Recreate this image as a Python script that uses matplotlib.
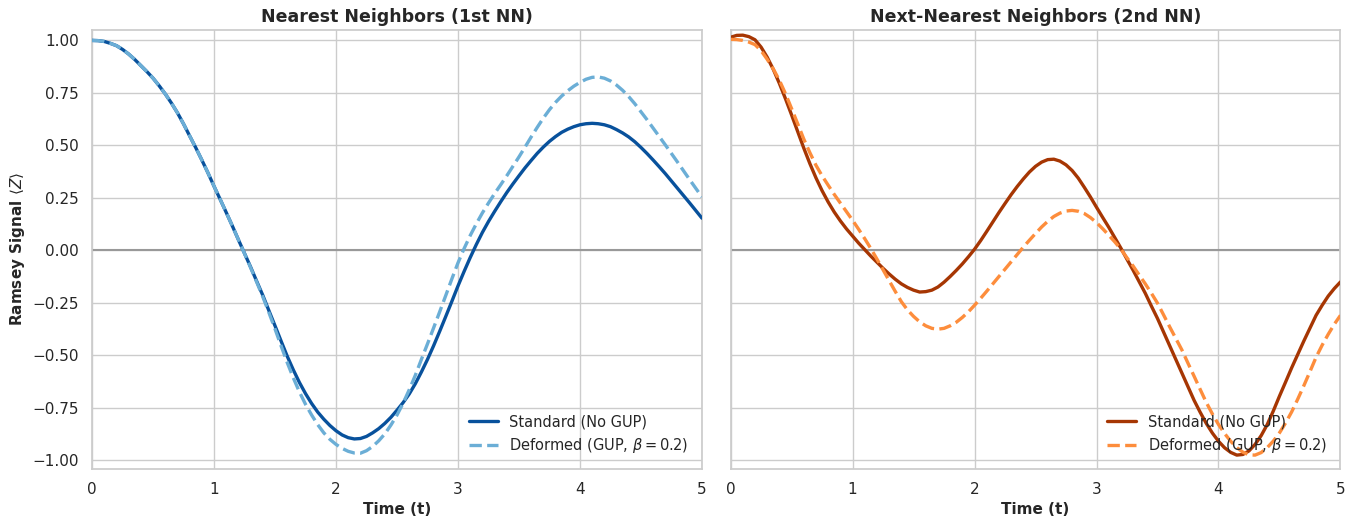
#!/usr/bin/env python3
# -*- coding: utf-8 -*-
"""
Ramsey signal <Z>(t) for 1st and 2nd nearest neighbours, standard vs GUP-deformed.
Values read off the reference figure, sampled every 0.05 in t.
"""

import numpy as np
import matplotlib
matplotlib.use("Agg")
import matplotlib.pyplot as plt
import seaborn as sns

t_vals = np.linspace(0.0, 5.0, 101)

nn1_standard = [
    1.000, 0.999, 0.995, 0.986, 0.975, 0.957, 0.935, 0.909, 0.880, 0.851,
    0.820, 0.784, 0.745, 0.702, 0.655, 0.602, 0.545, 0.489, 0.430, 0.369,
    0.305, 0.243, 0.180, 0.116, 0.050, -0.015, -0.080, -0.148, -0.215, -0.288,
    -0.360, -0.433, -0.505, -0.570, -0.630, -0.683, -0.730, -0.771, -0.805, -0.835,
    -0.860, -0.880, -0.893, -0.899, -0.897, -0.887, -0.870, -0.850, -0.825, -0.796,
    -0.762, -0.726, -0.685, -0.636, -0.580, -0.520, -0.455, -0.386, -0.315, -0.243,
    -0.170, -0.101, -0.035, 0.027, 0.085, 0.137, 0.185, 0.231, 0.275, 0.316,
    0.355, 0.393, 0.428, 0.462, 0.492, 0.519, 0.542, 0.562, 0.577, 0.589,
    0.598, 0.603, 0.605, 0.603, 0.598, 0.589, 0.575, 0.559, 0.540, 0.517,
    0.490, 0.461, 0.430, 0.398, 0.365, 0.330, 0.295, 0.260, 0.225, 0.189,
    0.153,
]
nn1_deformed = [
    1.000, 0.999, 0.995, 0.986, 0.975, 0.957, 0.935, 0.909, 0.880, 0.851,
    0.820, 0.784, 0.745, 0.702, 0.655, 0.602, 0.545, 0.489, 0.430, 0.369,
    0.305, 0.243, 0.180, 0.116, 0.050, -0.016, -0.083, -0.152, -0.222, -0.297,
    -0.375, -0.456, -0.535, -0.608, -0.675, -0.734, -0.785, -0.831, -0.870, -0.901,
    -0.925, -0.944, -0.958, -0.966, -0.967, -0.955, -0.935, -0.908, -0.875, -0.833,
    -0.785, -0.729, -0.665, -0.596, -0.520, -0.446, -0.370, -0.293, -0.215, -0.136,
    -0.060, 0.008, 0.070, 0.126, 0.178, 0.225, 0.270, 0.312, 0.355, 0.400,
    0.445, 0.492, 0.540, 0.586, 0.630, 0.670, 0.705, 0.735, 0.760, 0.782,
    0.800, 0.815, 0.824, 0.826, 0.820, 0.807, 0.787, 0.762, 0.732, 0.698,
    0.660, 0.622, 0.582, 0.542, 0.502, 0.461, 0.420, 0.378, 0.336, 0.295,
    0.254,
]
nn2_standard = [
    1.015, 1.024, 1.025, 1.018, 1.003, 0.968, 0.920, 0.862, 0.795, 0.722,
    0.645, 0.566, 0.487, 0.413, 0.345, 0.284, 0.230, 0.182, 0.140, 0.102,
    0.068, 0.034, 0.003, -0.028, -0.057, -0.086, -0.113, -0.138, -0.160, -0.177,
    -0.190, -0.199, -0.197, -0.190, -0.175, -0.152, -0.125, -0.096, -0.065, -0.031,
    0.005, 0.046, 0.090, 0.135, 0.180, 0.223, 0.265, 0.304, 0.340, 0.373,
    0.400, 0.420, 0.432, 0.434, 0.425, 0.407, 0.380, 0.344, 0.300, 0.254,
    0.205, 0.157, 0.110, 0.060, 0.010, -0.043, -0.095, -0.150, -0.205, -0.266,
    -0.325, -0.390, -0.455, -0.520, -0.585, -0.650, -0.715, -0.772, -0.825, -0.871,
    -0.910, -0.941, -0.963, -0.976, -0.973, -0.956, -0.925, -0.883, -0.830, -0.765,
    -0.695, -0.628, -0.560, -0.496, -0.432, -0.371, -0.310, -0.262, -0.218, -0.182,
    -0.151,
]
nn2_deformed = [
    1.005, 1.004, 1.000, 0.992, 0.980, 0.951, 0.910, 0.864, 0.810, 0.746,
    0.675, 0.603, 0.530, 0.465, 0.405, 0.355, 0.310, 0.266, 0.225, 0.184,
    0.143, 0.100, 0.055, 0.008, -0.042, -0.093, -0.145, -0.196, -0.245, -0.284,
    -0.315, -0.341, -0.360, -0.372, -0.376, -0.372, -0.360, -0.343, -0.320, -0.293,
    -0.262, -0.229, -0.195, -0.160, -0.125, -0.090, -0.055, -0.020, 0.015, 0.048,
    0.080, 0.111, 0.138, 0.161, 0.177, 0.187, 0.190, 0.186, 0.175, 0.156,
    0.132, 0.103, 0.072, 0.040, 0.005, -0.036, -0.075, -0.118, -0.160, -0.205,
    -0.252, -0.308, -0.365, -0.420, -0.475, -0.538, -0.600, -0.663, -0.725, -0.780,
    -0.830, -0.873, -0.910, -0.940, -0.962, -0.975, -0.976, -0.964, -0.940, -0.909,
    -0.870, -0.823, -0.770, -0.709, -0.645, -0.578, -0.510, -0.452, -0.400, -0.352,
    -0.310,
]

titles = ["Nearest Neighbors (1st NN)", "Next-Nearest Neighbors (2nd NN)"]
label_std = "Standard (No GUP)"
label_def = r"Deformed (GUP, $\beta = 0.2$)"


def main():
    sns.set_theme(style="whitegrid")
    plt.rcParams["font.family"] = ["DejaVu Sans"]

    fig, axes = plt.subplots(1, 2, figsize=(13.54, 5.16), dpi=100, sharey=True)
    fig.subplots_adjust(left=0.068, right=0.99, top=0.942, bottom=0.092, wspace=0.047)

    panels = [
        (axes[0], nn1_standard, nn1_deformed, "#08519c", "#6baed6"),
        (axes[1], nn2_standard, nn2_deformed, "#a63603", "#fd8d3c"),
    ]
    for i, (ax, ys, yd, c_std, c_def) in enumerate(panels):
        ax.axhline(0, color="#999999", lw=1.5, zorder=1)
        ax.plot(t_vals, ys, color=c_std, lw=2.4, label=label_std, zorder=3)
        ax.plot(t_vals, yd, color=c_def, lw=2.4, ls="--", label=label_def, zorder=3)
        ax.set_xlim(0, 5)
        ax.set_ylim(-1.04, 1.05)
        ax.set_yticks(np.arange(-1.0, 1.01, 0.25))
        ax.set_title(titles[i], fontsize=12.5, fontweight="bold")
        ax.set_xlabel("Time (t)", fontsize=11, fontweight="bold")
        ax.legend(loc="lower right", frameon=False, fontsize=10.5)
        ax.tick_params(labelsize=11)

    axes[0].set_ylabel(r"Ramsey Signal $\langle Z \rangle$", fontsize=11, fontweight="bold")

    fig.savefig("out.png", dpi=100)
    plt.close(fig)


if __name__ == "__main__":
    main()
